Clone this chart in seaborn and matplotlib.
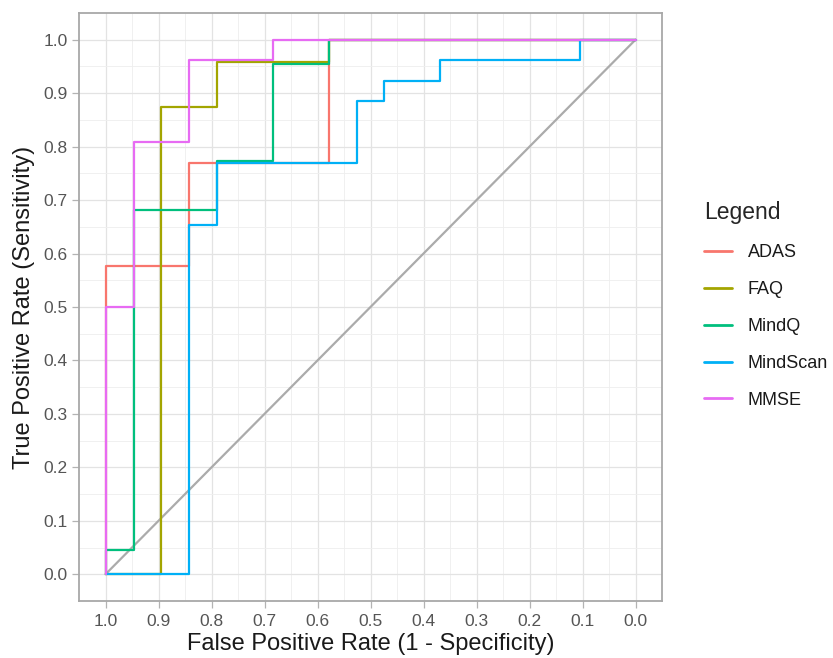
import matplotlib
matplotlib.use("Agg")
import matplotlib.pyplot as plt
import seaborn as sns
import pandas as pd

# ROC corner points (specificity on x, sensitivity on y)
tests = ["ADAS", "FAQ", "MindQ", "MindScan", "MMSE"]
colors = ["#F8766D", "#A3A500", "#00BF7D", "#00B0F6", "#E76BF3"]

adas_spec = [1.0, 1.0, 0.842, 0.842, 0.579, 0.579, 0.579, 0.0]
adas_sens = [0.0, 0.577, 0.577, 0.769, 0.769, 0.962, 1.0, 1.0]

faq_spec = [1.0, 0.895, 0.895, 0.789, 0.789, 0.579, 0.579, 0.0]
faq_sens = [0.0, 0.0, 0.875, 0.875, 0.958, 0.958, 1.0, 1.0]

mindq_spec = [1.0, 1.0, 0.947, 0.947, 0.789, 0.789, 0.684, 0.684, 0.579, 0.579, 0.0]
mindq_sens = [0.0, 0.045, 0.045, 0.682, 0.682, 0.773, 0.773, 0.955, 0.955, 1.0, 1.0]

mindscan_spec = [1.0, 0.842, 0.842, 0.789, 0.789, 0.526, 0.526, 0.474, 0.474,
                 0.368, 0.368, 0.105, 0.105, 0.0]
mindscan_sens = [0.0, 0.0, 0.654, 0.654, 0.769, 0.769, 0.885, 0.885, 0.923,
                 0.923, 0.962, 0.962, 1.0, 1.0]

mmse_spec = [1.0, 1.0, 0.947, 0.947, 0.842, 0.842, 0.684, 0.684, 0.0]
mmse_sens = [0.0, 0.5, 0.5, 0.808, 0.808, 0.962, 0.962, 1.0, 1.0]

diag_x = [1.0, 0.0]
diag_y = [0.0, 1.0]

ticks = [1.0, 0.9, 0.8, 0.7, 0.6, 0.5, 0.4, 0.3, 0.2, 0.1, 0.0]
minor_ticks = [0.95, 0.85, 0.75, 0.65, 0.55, 0.45, 0.35, 0.25, 0.15, 0.05]

curves = {
    "ADAS": (adas_spec, adas_sens),
    "FAQ": (faq_spec, faq_sens),
    "MindQ": (mindq_spec, mindq_sens),
    "MindScan": (mindscan_spec, mindscan_sens),
    "MMSE": (mmse_spec, mmse_sens),
}
frames = []
for name in tests:
    spec, sens = curves[name]
    frames.append(pd.DataFrame({"spec": spec, "sens": sens, "test": name}))
df = pd.concat(frames, ignore_index=True)

sns.set_theme(style="white")
plt.rcParams["font.family"] = ["Liberation Sans", "DejaVu Sans"]

fig = plt.figure(figsize=(8.33, 6.58), dpi=100)
ax = fig.add_axes([79 / 833, 1 - 601 / 658, 583 / 833, 588 / 658])

ax.plot(diag_x, diag_y, color="#ABABAB", lw=1.6, zorder=1)
sns.lineplot(data=df, x="spec", y="sens", hue="test", hue_order=tests,
             palette=colors, sort=False, estimator=None, lw=1.6, ax=ax, zorder=2)

ax.set_xlim(1.05, -0.05)
ax.set_ylim(-0.05, 1.05)
ax.set_xticks(ticks)
ax.set_yticks(ticks)
ax.set_xticks(minor_ticks, minor=True)
ax.set_yticks(minor_ticks, minor=True)
ax.set_xticklabels([f"{t:.1f}" for t in ticks])
ax.set_yticklabels([f"{t:.1f}" for t in ticks])
ax.grid(which="major", color="#E3E3E3", lw=0.9)
ax.grid(which="minor", color="#EEEEEE", lw=0.6)
ax.set_axisbelow(True)
ax.tick_params(which="major", length=5, width=0.9, color="#B3B3B3",
               labelsize=12.5, labelcolor="#555555", pad=3, bottom=True, left=True)
ax.tick_params(axis="x", which="major", pad=4)
ax.tick_params(which="minor", length=0)
for sp in ax.spines.values():
    sp.set_color("#A8A8A8")
    sp.set_linewidth(1.3)

ax.set_xlabel("False Positive Rate (1 - Specificity)", fontsize=17, color="#1A1A1A", labelpad=3)
ax.set_ylabel("True Positive Rate (Sensitivity)", fontsize=17, color="#1A1A1A", labelpad=6)

leg = ax.legend(title="Legend", loc="upper left", bbox_to_anchor=(699 / 833, 1 - 196 / 658),
                bbox_transform=fig.transFigure, frameon=False, fontsize=13,
                title_fontsize=16.5, handlelength=1.55, handletextpad=0.85,
                labelspacing=1.1, borderpad=0.3, borderaxespad=0, alignment="left")
for line in leg.get_lines():
    line.set_linewidth(2)
for t in leg.get_texts():
    t.set_color("#1A1A1A")

fig.savefig("out.png", dpi=100)
